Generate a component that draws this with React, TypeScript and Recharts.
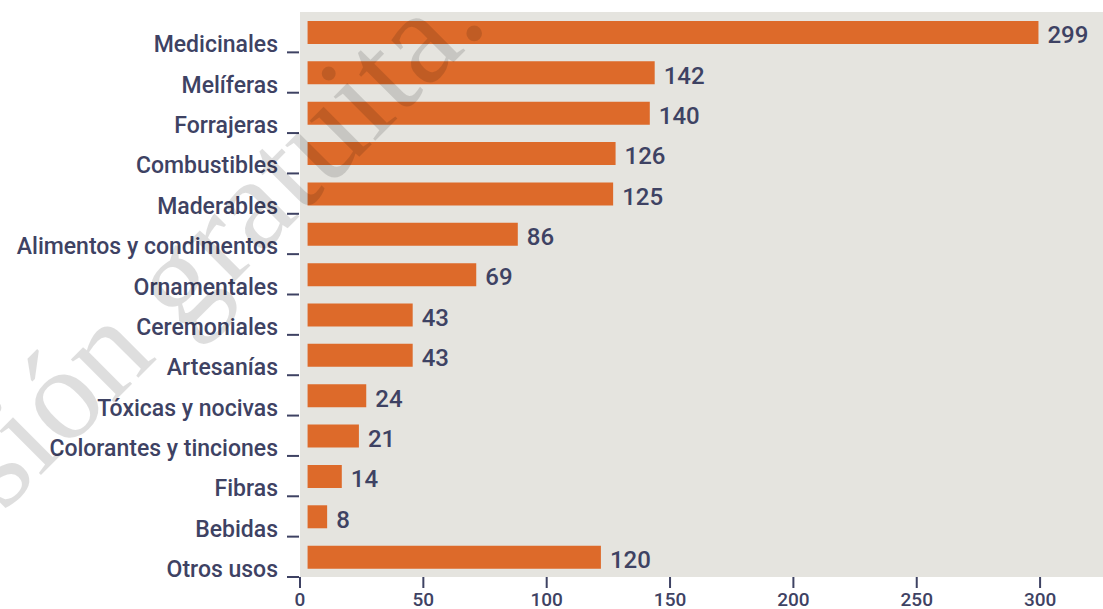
import React from 'react';
import { BarChart, Bar, XAxis, YAxis, LabelList } from 'recharts';

const categories = [
  'Medicinales',
  'Melíferas',
  'Forrajeras',
  'Combustibles',
  'Maderables',
  'Alimentos y condimentos',
  'Ornamentales',
  'Ceremoniales',
  'Artesanías',
  'Tóxicas y nocivas',
  'Colorantes y tinciones',
  'Fibras',
  'Bebidas',
  'Otros usos',
];
const values = [299, 142, 140, 126, 125, 86, 69, 43, 43, 24, 21, 14, 8, 120];
const xTicks = [0, 50, 100, 150, 200, 250, 300];

const data = categories.map((name, i) => ({ name, value: values[i] }));

const TEXT = '#3e4263';
const BAR = '#dd6a2a';
const BG = '#e5e4df';
const FONT = 'Roboto, "Open Sans", sans-serif';
const BAND_HALF = 565 / 14 / 2;

const CatTick = (props: any) => {
  const { x, y, payload } = props;
  const base = y + BAND_HALF;
  return (
    <g>
      <text
        x={x - 22}
        y={base}
        textAnchor="end"
        fill={TEXT}
        fontFamily={FONT}
        fontSize={23}
        fontWeight={500}
      >
        {payload.value}
      </text>
      <line x1={x - 13} x2={x - 1} y1={base} y2={base} stroke={TEXT} strokeWidth={2} />
    </g>
  );
};

const ValueLabel = (props: any) => {
  const { x, y, width, height, value } = props;
  return (
    <text
      x={x + width + 9}
      y={y + height / 2 + 10.8}
      fill={TEXT}
      fontFamily={FONT}
      fontSize={24}
      fontWeight={500}
    >
      {value}
    </text>
  );
};

export default function App() {
  return (
    <div style={{ position: 'absolute', left: 0, top: 0, width: 1103, height: 609, background: '#fff', overflow: 'hidden' }}>
      <div style={{ position: 'absolute', left: 300, top: 12, width: 803, height: 565, background: BG }} />
      <div style={{ position: 'absolute', left: 0, top: 0 }}>
        <BarChart
          width={1103}
          height={609}
          layout="vertical"
          data={data}
          margin={{ top: 12, right: 0, bottom: 0, left: 0 }}
          barSize={23}
        >
          <XAxis
            type="number"
            domain={[0, 325.5]}
            ticks={xTicks}
            allowDataOverflow
            interval={0}
            axisLine={false}
            tickSize={11}
            tickMargin={5}
            tickLine={{ stroke: TEXT, strokeWidth: 2 }}
            tick={{ fill: TEXT, fontSize: 19, fontFamily: FONT, fontWeight: 500 }}
            height={32}
          />
          <XAxis xAxisId="bars" type="number" domain={[-3.1, 325.4]} allowDataOverflow hide height={0} />
          <YAxis
            type="category"
            dataKey="name"
            width={300}
            interval={0}
            axisLine={false}
            tickLine={false}
            tickSize={0}
            tickMargin={0}
            tick={<CatTick />}
          />
          <Bar dataKey="value" xAxisId="bars" fill={BAR} isAnimationActive={false}>
            <LabelList dataKey="value" content={<ValueLabel />} />
          </Bar>
        </BarChart>
      </div>
      <svg
        width={1103}
        height={609}
        style={{ position: 'absolute', left: 0, top: 0, pointerEvents: 'none' }}
      >
        <text
          x={490}
          y={26}
          textAnchor="end"
          transform="rotate(-45 490 26)"
          fontFamily='"Liberation Serif", serif'
          fontSize={132}
          fill="#000"
          fillOpacity={0.13}
        >
          Versión gratuita.
        </text>
      </svg>
    </div>
  );
}
